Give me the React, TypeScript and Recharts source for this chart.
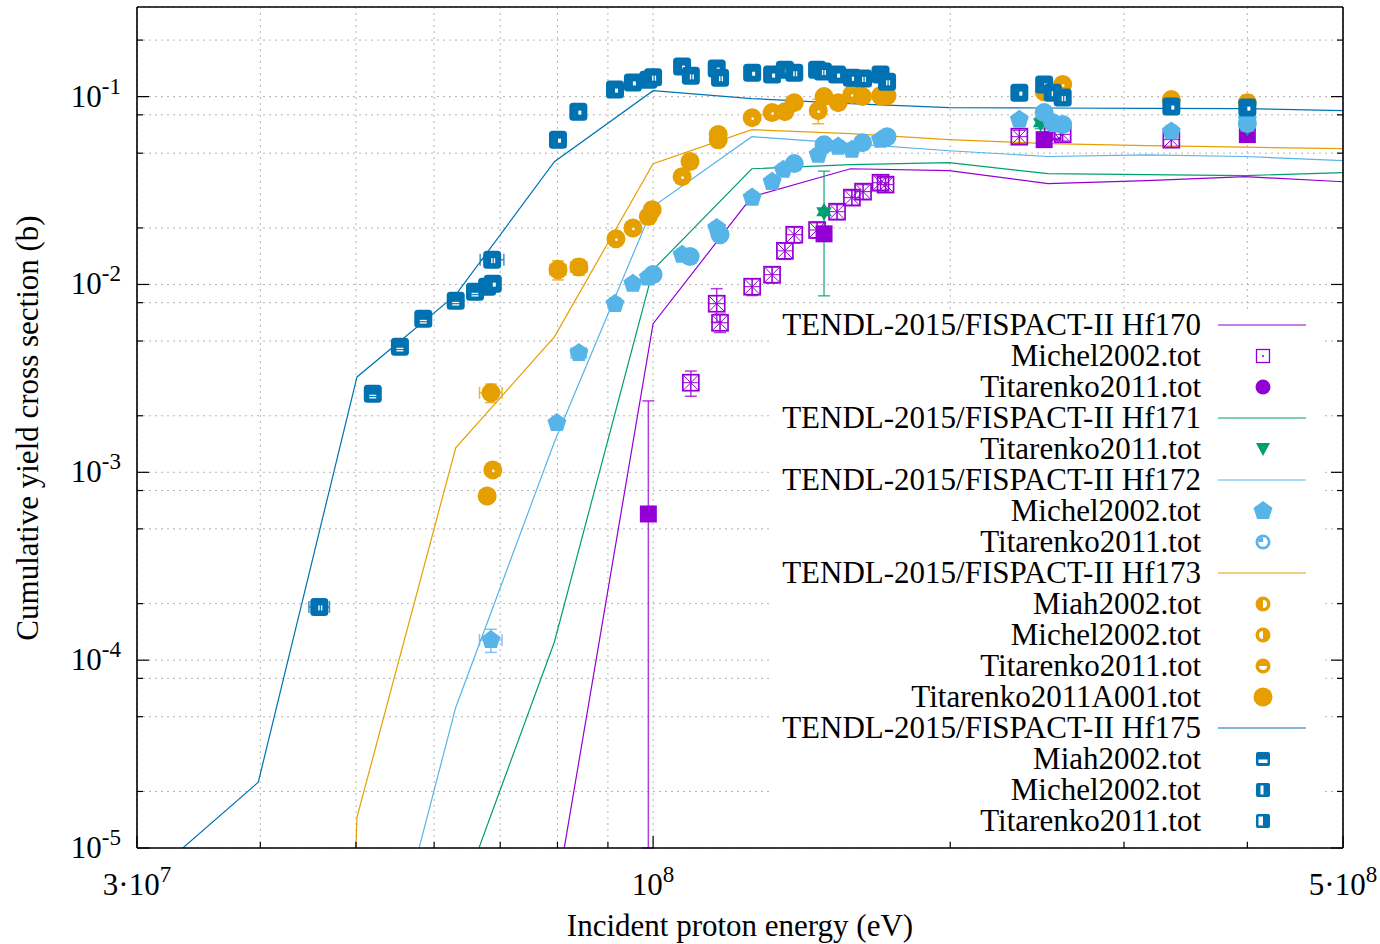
import { ComposedChart, Line, Scatter, XAxis, YAxis, CartesianGrid, ErrorBar } from 'recharts';

const C170 = '#9400d3';
const C171 = '#009e73';
const C172 = '#56b4e9';
const C173 = '#e69f00';
const C175 = '#0072b2';
const FONT = '"Liberation Serif", "Times New Roman", serif';

// TENDL-2015/FISPACT-II calculations (energy grid in eV, cross sections in b)
const tendlEnergy = [3.162e7, 3.981e7, 5.012e7, 6.31e7, 7.943e7, 1e8, 1.259e8, 1.585e8, 1.995e8, 2.512e8, 3.162e8, 3.981e8, 5.012e8];
const hf170Tendl = [null, null, null, null, 4.9e-6, 6.18e-3, 0.0293, 0.0413, 0.0404, 0.0344, 0.0357, 0.0375, 0.0352];
const hf171Tendl = [null, null, null, 4.6e-6, 1.25e-4, 0.01197, 0.0413, 0.0434, 0.0445, 0.0389, 0.0384, 0.038, 0.0394];
const hf172Tendl = [null, null, 5.4e-7, 5.6e-5, 1.45e-3, 0.026, 0.0612, 0.0562, 0.0515, 0.048, 0.049, 0.048, 0.0456];
const hf173Tendl = [null, 1e-20, 1.46e-5, 1.35e-3, 5.26e-3, 0.0439, 0.0667, 0.0636, 0.059, 0.0562, 0.0548, 0.0538, 0.0528];
const hf175Tendl = [7.8e-6, 2.24e-5, 3.22e-3, 8.8e-3, 0.045, 0.1076, 0.0976, 0.0918, 0.0874, 0.087, 0.0866, 0.0863, 0.0843];

// measurements: [energy, value, y error, x error]
const hf170Michel = [
  [1.092e8, 3.0e-3, 4.6e-4], [1.16e8, 7.9e-3, 1.6e-3], [1.169e8, 6.25e-3, 7e-4], [1.26e8, 9.73e-3, 1e-3],
  [1.32e8, 0.01127, 1.1e-3], [1.36e8, 0.0151, 1.5e-3], [1.39e8, 0.0184, 1.8e-3], [1.466e8, 0.0195, 1.8e-3],
  [1.536e8, 0.0244, 2.2e-3], [1.59e8, 0.029, 2.6e-3], [1.632e8, 0.0312, 2.8e-3], [1.7e8, 0.0348, 3e-3],
  [1.72e8, 0.034, 3e-3], [2.35e8, 0.0612, 5e-3], [2.54e8, 0.065, 5e-3], [2.6e8, 0.063, 5e-3], [3.35e8, 0.059, 5e-3],
];
const hf170Titarenko = [
  [9.89e7, 6.0e-4, [5.9e-4, 1.8e-3]], [1.49e8, 0.0186, 1.5e-3], [2.49e8, 0.059, 4e-3], [4.0e8, 0.0628, 4e-3],
];
const hf171Titarenko = [
  [1.49e8, 0.0244, 0.0157], [2.47e8, 0.0726, 5e-3], [4.0e8, 0.0684, 5e-3],
];
const hf172Michel = [
  [6.85e7, 1.28e-4, 1.8e-5, 1.8e6], [7.99e7, 1.83e-3, 1.2e-4], [8.41e7, 4.32e-3, 3e-4, 1.5e6], [9.15e7, 7.89e-3, 6e-4],
  [9.54e7, 0.0101, 7e-4], [9.89e7, 0.0109, 8e-4], [1.07e8, 0.0144, 1e-3], [1.16e8, 0.02, 1.4e-3],
  [1.26e8, 0.029, 2e-3], [1.32e8, 0.0352, 2.5e-3], [1.355e8, 0.0408, 3e-3], [1.47e8, 0.0491, 3.5e-3],
  [1.54e8, 0.0542, 4e-3], [1.59e8, 0.0522, 4e-3], [1.7e8, 0.059, 4e-3], [2.35e8, 0.0754, 5e-3],
  [3.35e8, 0.0652, 5e-3], [4.0e8, 0.0754, 5e-3],
];
const hf172Titarenko = [
  [1.0e8, 0.0113, 8e-4], [1.09e8, 0.0141, 1e-3], [1.169e8, 0.0184, 1.3e-3], [1.39e8, 0.044, 3e-3],
  [1.49e8, 0.0555, 4e-3], [1.63e8, 0.0569, 4e-3], [1.726e8, 0.0612, 4e-3], [2.49e8, 0.0822, 6e-3],
  [2.54e8, 0.0726, 5e-3], [2.6e8, 0.071, 5e-3], [4.0e8, 0.072, 5e-3],
];
const hf173Miah = [
  [6.85e7, 2.65e-3, 3e-4, 1.8e6], [8.01e7, 0.01197, 1.4e-3, 1.5e6], [8.41e7, 0.0124, 1.2e-3, 1.6e6],
];
const hf173Michel = [
  [6.88e7, 1.03e-3], [9.17e7, 0.0175, 1.3e-3], [9.54e7, 0.02, 1.5e-3], [1.07e8, 0.0375, 3e-3],
  [1.164e8, 0.059, 5e-3], [1.26e8, 0.0773, 5e-3], [1.32e8, 0.0822, 5e-3], [1.47e8, 0.0842, 0.0125],
  [1.59e8, 0.1026, 8e-3], [1.7e8, 0.101, 8e-3], [2.6e8, 0.116, 9e-3], [3.35e8, 0.0964, 8e-3], [4.0e8, 0.0929, 9e-3],
];
const hf173Titarenko = [
  [6.79e7, 7.48e-4, 5e-5], [9.89e7, 0.023, 2e-3], [1.09e8, 0.0451, 3e-3], [1.164e8, 0.0628, 5e-3],
  [1.36e8, 0.0832, 6e-3], [1.49e8, 0.1, 9e-3], [1.63e8, 0.1, 7e-3], [1.726e8, 0.101, 7e-3], [2.49e8, 0.106, 8e-3],
];
const hf173TitarenkoA001 = [
  [9.98e7, 0.025, 2e-3], [1.39e8, 0.0929, 6e-3], [1.54e8, 0.0929, 7e-3],
];
const hf175Miah = [
  [5.2e7, 2.62e-3, 1.5e-4], [5.54e7, 4.66e-3, 2.6e-4], [5.85e7, 6.56e-3, 3.6e-4], [6.31e7, 8.18e-3, 4.5e-4], [6.6e7, 9.14e-3, 5e-4],
];
const hf175Michel = [
  [6.79e7, 9.72e-3, 5e-4], [6.88e7, 0.0101, 5.5e-4], [8.01e7, 0.059, 5e-3], [8.4e7, 0.0832, 6e-3, 1.5e6],
  [9.15e7, 0.109, 7e-3], [9.54e7, 0.119, 7e-3], [9.89e7, 0.123, 8e-3], [1.07e8, 0.1445, 9e-3],
  [1.16e8, 0.141, 9e-3], [1.26e8, 0.134, 8e-3], [1.32e8, 0.131, 8e-3], [1.36e8, 0.139, 8e-3],
  [1.466e8, 0.139, 8e-3], [1.536e8, 0.131, 8e-3], [1.59e8, 0.126, 8e-3], [1.7e8, 0.131, 8e-3],
  [2.35e8, 0.105, 9e-3], [2.49e8, 0.116, 8e-3], [3.35e8, 0.0885, 6e-3], [4.0e8, 0.0874, 6e-3],
];
const hf175Titarenko = [
  [4.59e7, 1.92e-4, 1.2e-5, 1.1e6], [6.87e7, 0.01355, 9e-4, 1.9e6], [1.0e8, 0.127, 9e-3], [1.092e8, 0.129, 9e-3],
  [1.169e8, 0.126, 9e-3], [1.39e8, 0.134, 8e-3], [1.486e8, 0.136, 9e-3], [1.632e8, 0.125, 9e-3],
  [1.726e8, 0.12, 9e-3], [2.54e8, 0.105, 8e-3], [2.6e8, 0.0988, 8e-3],
];

const xTicks = [3e7, 4e7, 5e7, 6e7, 7e7, 8e7, 9e7, 1e8, 2e8, 3e8, 4e8, 5e8];
const xLabelValues = [3e7, 1e8, 5e8];
const xLabelBases = ['3·10', '10', '5·10'];
const xLabelExps = ['7', '8', '8'];
const yTicks = [
  1e-5, 2e-5, 5e-5, 8e-5, 1e-4, 2e-4, 5e-4, 8e-4, 1e-3, 2e-3, 5e-3, 8e-3,
  1e-2, 2e-2, 5e-2, 8e-2, 1e-1, 2e-1,
];

const legendLabels = [
  'TENDL-2015/FISPACT-II Hf170', 'Michel2002.tot', 'Titarenko2011.tot',
  'TENDL-2015/FISPACT-II Hf171', 'Titarenko2011.tot',
  'TENDL-2015/FISPACT-II Hf172', 'Michel2002.tot', 'Titarenko2011.tot',
  'TENDL-2015/FISPACT-II Hf173', 'Miah2002.tot', 'Michel2002.tot', 'Titarenko2011.tot', 'Titarenko2011A001.tot',
  'TENDL-2015/FISPACT-II Hf175', 'Miah2002.tot', 'Michel2002.tot', 'Titarenko2011.tot',
];
const legendKinds = [
  'line', 'lgBoxDot', 'lgCircle',
  'line', 'lgTriDown',
  'line', 'pent', 'lgQuarter',
  'line', 'lgMiah', 'lgMichel', 'lgTit', 'cirFull',
  'line', 'lgSqMiah', 'lgSqMichel', 'lgSqTit',
];
const legendColors = [
  C170, C170, C170, C171, C171, C172, C172, C172,
  C173, C173, C173, C173, C173, C175, C175, C175, C175,
];

const toPts = (rows: any[]) => rows.map((r) => ({ x: r[0], y: r[1], ey: r[2], ex: r[3] }));
const toLine = (vals: (number | null)[]) => tendlEnergy.map((x, i) => ({ x, y: vals[i] }));
const isDecade = (v: number) => Math.abs(Math.log10(v) - Math.round(Math.log10(v))) < 1e-6;

function Mark({ kind, color, cx, cy, s = 1 }: any) {
  let body: any = null;
  const sq = <rect x={-9} y={-9} width={18} height={18} rx={3.5} fill={color} />;
  const cir = <circle r={9.5} fill={color} />;
  switch (kind) {
    case 'sqMiah':
      body = (
        <>
          {sq}
          <rect x={-3.5} y={1} width={7} height={1.3} fill="#fff" />
          <rect x={-3.5} y={3.4} width={7} height={1.3} fill="#fff" />
        </>
      );
      break;
    case 'sqMichel':
      body = (
        <>
          {sq}
          <rect x={0} y={-1} width={3} height={4} fill="#fff" />
        </>
      );
      break;
    case 'sqTit':
      body = (
        <>
          {sq}
          <rect x={-1} y={-1.5} width={1.4} height={5} fill="#fff" />
          <rect x={1.6} y={-1.5} width={1.4} height={5} fill="#fff" />
        </>
      );
      break;
    case 'lgSqMiah':
      body = (
        <>
          <rect x={-7} y={-7} width={14} height={14} rx={2} fill={color} />
          <rect x={-4.5} y={0.5} width={9} height={3.5} fill="#fff" />
        </>
      );
      break;
    case 'lgSqMichel':
      body = (
        <>
          <rect x={-7} y={-7} width={14} height={14} rx={2} fill={color} />
          <rect x={-2.5} y={-4.5} width={3} height={9} fill="#fff" />
        </>
      );
      break;
    case 'lgSqTit':
      body = (
        <>
          <rect x={-7} y={-7} width={14} height={14} rx={2} fill={color} />
          <rect x={-4.5} y={-4.5} width={4.5} height={9} fill="#fff" />
        </>
      );
      break;
    case 'cirMiah':
    case 'cirMichel':
    case 'cirTit':
    case 'cirFull':
      body = cir;
      if (kind === 'cirMichel') body = <>{cir}<circle cx={0.5} cy={1} r={1.3} fill="#fff" /></>;
      break;
    case 'lgMiah':
      body = (
        <>
          <circle r={7.5} fill={color} />
          <path d="M0,-4 A4,4 0 0,1 0,4 Z" fill="#fff" />
        </>
      );
      break;
    case 'lgMichel':
      body = (
        <>
          <circle r={7.5} fill={color} />
          <path d="M0,-4 A4,4 0 0,0 0,4 Z" fill="#fff" />
        </>
      );
      break;
    case 'lgTit':
      body = (
        <>
          <circle r={7.5} fill={color} />
          <path d="M-4,0 A4,4 0 0,0 4,0 Z" fill="#fff" />
        </>
      );
      break;
    case 'pent':
      body = <polygon points="0,-10 9.51,-3.09 5.88,8.09 -5.88,8.09 -9.51,-3.09" fill={color} />;
      break;
    case 'cirQuarter':
      body = cir;
      break;
    case 'lgQuarter':
      body = (
        <>
          <circle r={7.5} fill={color} />
          <circle r={4.8} fill="#fff" />
          <path d="M0,0 L0,-4.8 A4.8,4.8 0 0,0 -4.8,0 Z" fill={color} />
        </>
      );
      break;
    case 'star':
      body = (
        <>
          <polygon points="0,-9 7.8,4.5 -7.8,4.5" fill={color} />
          <polygon points="0,9 7.8,-4.5 -7.8,-4.5" fill={color} />
        </>
      );
      break;
    case 'lgTriDown':
      body = <polygon points="-7,-6 7,-6 0,7" fill={color} />;
      break;
    case 'boxX':
      body = (
        <g stroke={color} fill="none">
          <rect x={-8} y={-8} width={16} height={16} strokeWidth={1.7} />
          <path d="M-8,-8 L8,8 M-8,8 L8,-8 M0,-8 L0,8 M-8,0 L8,0" strokeWidth={1} />
        </g>
      );
      break;
    case 'lgBoxDot':
      body = (
        <>
          <rect x={-6.5} y={-6.5} width={13} height={13} fill="none" stroke={color} strokeWidth={1.3} />
          <circle r={1} fill={color} />
        </>
      );
      break;
    case 'fillSq':
      body = <rect x={-8.5} y={-8.5} width={17} height={17} fill={color} />;
      break;
    case 'lgCircle':
      body = <circle r={7.5} fill={color} />;
      break;
  }
  return <g transform={`translate(${cx},${cy}) scale(${s})`}>{body}</g>;
}

function dataSeries(rows: any[], color: string, kind: string, key: string) {
  return (
    <Scatter
      key={key}
      data={toPts(rows)}
      dataKey="y"
      fill={color}
      isAnimationActive={false}
      shape={(p: any) => <Mark kind={kind} color={color} cx={p.cx} cy={p.cy} />}
    >
      <ErrorBar dataKey="ey" direction="y" width={6} stroke={color} strokeWidth={1.5} strokeOpacity={0.75} isAnimationActive={false} />
      <ErrorBar dataKey="ex" direction="x" width={6} stroke={color} strokeWidth={1.5} strokeOpacity={0.75} isAnimationActive={false} />
    </Scatter>
  );
}

function tendlLine(vals: (number | null)[], color: string, key: string) {
  return (
    <Line
      key={key}
      data={toLine(vals)}
      dataKey="y"
      type="linear"
      stroke={color}
      strokeWidth={1.2}
      dot={false}
      activeDot={false}
      isAnimationActive={false}
    />
  );
}

function bottomTick(p: any) {
  const v = p.payload.value;
  const i = xLabelValues.findIndex((t) => Math.abs(t - v) / t < 1e-6);
  const len = i >= 0 ? 12 : 6;
  return (
    <g>
      <line x1={p.x} x2={p.x} y1={p.y} y2={p.y - len} stroke="#000" strokeWidth={1.2} />
      {i >= 0 && (
        <text x={p.x} y={p.y + 47} textAnchor="middle" fontFamily={FONT} fontSize={31} fill="#000">
          {xLabelBases[i]}
          <tspan dy={-13} fontSize={23}>{xLabelExps[i]}</tspan>
        </text>
      )}
    </g>
  );
}

function topTick(p: any) {
  const v = p.payload.value;
  const len = xLabelValues.some((t) => Math.abs(t - v) / t < 1e-6) ? 12 : 6;
  return <line x1={p.x} x2={p.x} y1={p.y} y2={p.y + len} stroke="#000" strokeWidth={1.2} />;
}

function leftTick(p: any) {
  const v = p.payload.value;
  const major = isDecade(v);
  return (
    <g>
      <line x1={p.x} x2={p.x + (major ? 12 : 6)} y1={p.y} y2={p.y} stroke="#000" strokeWidth={1.2} />
      {major && (
        <text x={p.x - 16} y={p.y + 10} textAnchor="end" fontFamily={FONT} fontSize={31} fill="#000">
          10
          <tspan dy={-13} fontSize={23}>{String(Math.round(Math.log10(v)))}</tspan>
        </text>
      )}
    </g>
  );
}

function rightTick(p: any) {
  const major = isDecade(p.payload.value);
  return <line x1={p.x} x2={p.x - (major ? 12 : 6)} y1={p.y} y2={p.y} stroke="#000" strokeWidth={1.2} />;
}

export default function App() {
  const axisLine = { stroke: '#000', strokeWidth: 1.6 };
  return (
    <div style={{ position: 'relative', width: 1380, height: 944, background: '#fff' }}>
      <style>{'body{margin:0;}'}</style>
      <ComposedChart width={1380} height={944} margin={{ top: 0, right: 0, left: 0, bottom: 0 }}>
        <CartesianGrid stroke="#b4b4b4" strokeDasharray="2 4" strokeWidth={1} />
        <XAxis
          dataKey="x" type="number" scale="log" domain={[3e7, 5e8]} allowDataOverflow
          ticks={xTicks} interval={0} height={96} tickSize={0} tickMargin={0}
          axisLine={axisLine} tickLine={false} tick={bottomTick}
        />
        <XAxis
          xAxisId="top" orientation="top" type="number" scale="log" domain={[3e7, 5e8]} allowDataOverflow
          ticks={xTicks} interval={0} height={7} tickSize={0} tickMargin={0}
          axisLine={axisLine} tickLine={false} tick={topTick}
        />
        <YAxis
          dataKey="y" type="number" scale="log" domain={[1e-5, 0.3]} allowDataOverflow
          ticks={yTicks} interval={0} width={137} tickSize={0} tickMargin={0}
          axisLine={axisLine} tickLine={false} tick={leftTick}
        />
        <YAxis
          yAxisId="right" orientation="right" type="number" scale="log" domain={[1e-5, 0.3]} allowDataOverflow
          ticks={yTicks} interval={0} width={37} tickSize={0} tickMargin={0}
          axisLine={axisLine} tickLine={false} tick={rightTick}
        />

        {tendlLine(hf170Tendl, C170, 'l170')}
        {dataSeries(hf170Michel, C170, 'boxX', 's170a')}
        {dataSeries(hf170Titarenko, C170, 'fillSq', 's170b')}
        {tendlLine(hf171Tendl, C171, 'l171')}
        {dataSeries(hf171Titarenko, C171, 'star', 's171a')}
        {tendlLine(hf172Tendl, C172, 'l172')}
        {dataSeries(hf172Michel, C172, 'pent', 's172a')}
        {dataSeries(hf172Titarenko, C172, 'cirQuarter', 's172b')}
        {tendlLine(hf173Tendl, C173, 'l173')}
        {dataSeries(hf173Miah, C173, 'cirMiah', 's173a')}
        {dataSeries(hf173Michel, C173, 'cirMichel', 's173b')}
        {dataSeries(hf173Titarenko, C173, 'cirTit', 's173c')}
        {dataSeries(hf173TitarenkoA001, C173, 'cirFull', 's173d')}
        {tendlLine(hf175Tendl, C175, 'l175')}
        {dataSeries(hf175Miah, C175, 'sqMiah', 's175a')}
        {dataSeries(hf175Michel, C175, 'sqMichel', 's175b')}
        {dataSeries(hf175Titarenko, C175, 'sqTit', 's175c')}
      </ComposedChart>

      <svg
        width={1380}
        height={944}
        style={{ position: 'absolute', left: 0, top: 0, pointerEvents: 'none' }}
      >
        <text
          transform="translate(38,428) rotate(-90)"
          textAnchor="middle"
          fontFamily={FONT}
          fontSize={31}
          fill="#000"
        >
          Cumulative yield cross section (b)
        </text>
        <text x={740} y={936} textAnchor="middle" fontFamily={FONT} fontSize={31} fill="#000">
          Incident proton energy (eV)
        </text>

        <rect x={772} y={309} width={552} height={530} fill="#fff" />
        {legendLabels.map((label, i) => {
          const cy = 325 + 31 * i;
          const kind = legendKinds[i];
          const color = legendColors[i];
          return (
            <g key={i}>
              <text x={1201} y={cy + 10} textAnchor="end" fontFamily={FONT} fontSize={31} fill="#000">
                {label}
              </text>
              {kind === 'line' ? (
                <line x1={1218} x2={1306} y1={cy} y2={cy} stroke={color} strokeWidth={1.2} />
              ) : (
                <Mark kind={kind} color={color} cx={1263} cy={cy} />
              )}
            </g>
          );
        })}
      </svg>
    </div>
  );
}
